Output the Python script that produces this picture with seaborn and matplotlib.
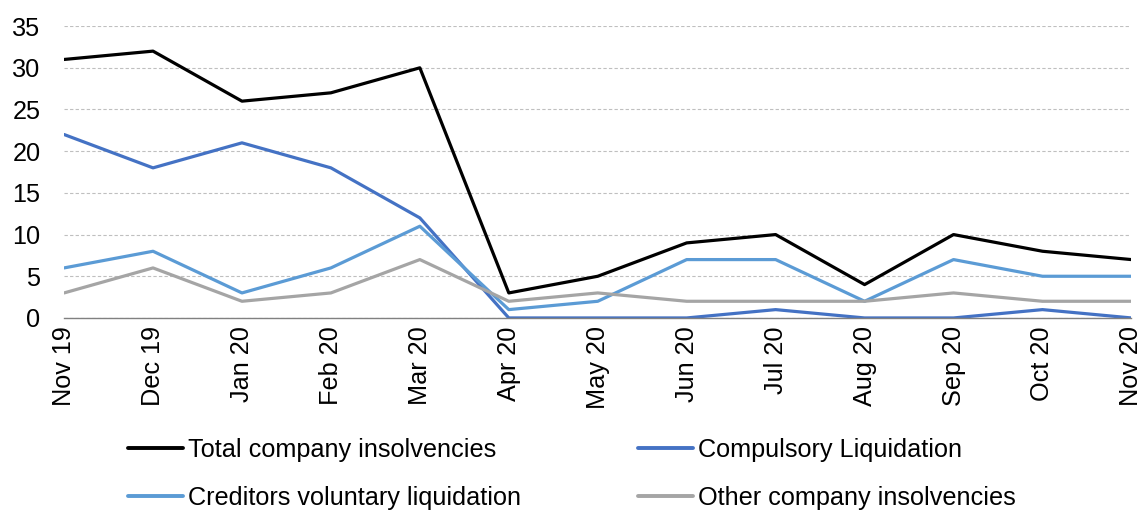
import matplotlib
matplotlib.use('agg')
import matplotlib.pyplot as plt
import pandas as pd
import seaborn as sns

# monthly company insolvencies
months = ['Nov 19', 'Dec 19', 'Jan 20', 'Feb 20', 'Mar 20', 'Apr 20', 'May 20',
          'Jun 20', 'Jul 20', 'Aug 20', 'Sep 20', 'Oct 20', 'Nov 20']
total = [31, 32, 26, 27, 30, 3, 5, 9, 10, 4, 10, 8, 7]
compulsory = [22, 18, 21, 18, 12, 0, 0, 0, 1, 0, 0, 1, 0]
cvl = [6, 8, 3, 6, 11, 1, 2, 7, 7, 2, 7, 5, 5]
other = [3, 6, 2, 3, 7, 2, 3, 2, 2, 2, 3, 2, 2]

series = {
    'Total company insolvencies': total,
    'Compulsory Liquidation': compulsory,
    'Creditors voluntary liquidation': cvl,
    'Other company insolvencies': other,
}
colors = ['#000000', '#4472C4', '#5B9BD5', '#A5A5A5']

rows = []
for name, vals in series.items():
    for m, v in zip(months, vals):
        rows.append({'month': m, 'value': v, 'series': name})
df = pd.DataFrame(rows)

sns.set_style('white')
plt.rcParams['font.family'] = ['Liberation Sans', 'DejaVu Sans']
plt.rcParams['text.color'] = 'black'
plt.rcParams['xtick.labelcolor'] = 'black'
plt.rcParams['ytick.labelcolor'] = 'black'
fs = 18.2

fig = plt.figure(figsize=(11.44, 5.12), dpi=100)
ax = fig.add_axes([0.056, 0.379, 0.933, 0.570])

sns.lineplot(data=df, x='month', y='value', hue='series', palette=colors,
             sort=False, linewidth=2.3, ax=ax, legend=False)

ax.set_xlim(0, len(months) - 1)
ax.set_ylim(0, 35)
ax.set_yticks(range(0, 36, 5))
ax.set_xlabel('')
ax.set_ylabel('')
ax.yaxis.grid(True, linestyle=(0, (3, 2)), color='#BFBFBF', linewidth=0.8)
ax.set_axisbelow(True)
for s in ['top', 'right', 'left']:
    ax.spines[s].set_visible(False)
ax.spines['bottom'].set_color('#808080')
ax.spines['bottom'].set_linewidth(1.0)
ax.tick_params(axis='x', rotation=90, labelsize=fs, length=6, color='#808080',
               width=1, pad=0, labelcolor='black')
ax.tick_params(axis='y', labelsize=fs, length=0, pad=17, labelcolor='black')

# legend rows: Total | Compulsory, then CVL | Other (matplotlib fills columns first)
names = list(series.keys())
order = [0, 2, 1, 3]
handles = [plt.Line2D([0], [0], color=colors[i], linewidth=2.8) for i in order]
fig.legend(handles, [names[i] for i in order], ncol=2, loc='center',
           bbox_to_anchor=(0.5, 0.075), frameon=False, fontsize=fs,
           handlelength=2.2, handletextpad=0.2, columnspacing=4.6,
           labelspacing=0.95)

fig.savefig('out.png', dpi=100)
